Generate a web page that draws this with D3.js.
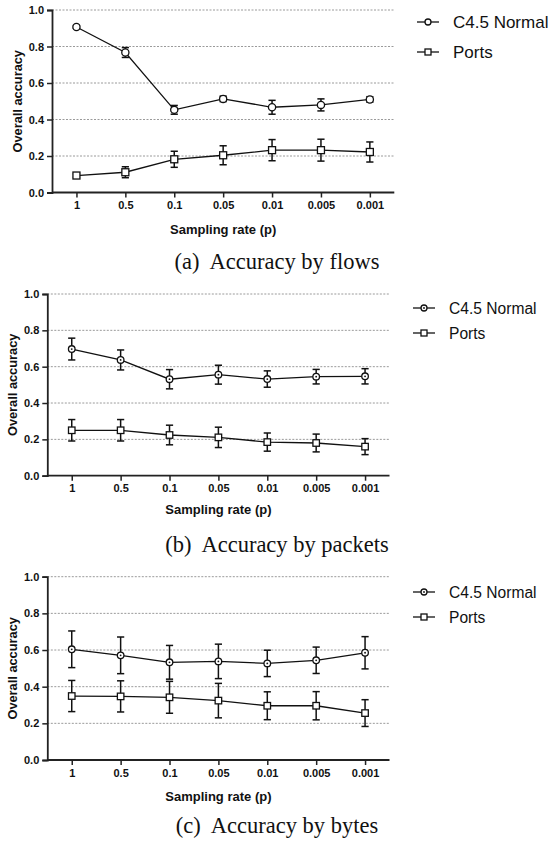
<!DOCTYPE html>
<html>
<head>
<meta charset="utf-8">
<script src="https://cdn.jsdelivr.net/npm/d3@7/dist/d3.min.js"></script>
<style>
  html, body { margin: 0; padding: 0; background: #fff; }
  svg { display: block; }
</style>
</head>
<body>
<svg id="chart" width="548" height="844"></svg>
<script>
// Sampling rates on the x axis and accuracy ticks on the y axis
const rates = ["1", "0.5", "0.1", "0.05", "0.01", "0.005", "0.001"];
const yTicks = [0, 0.2, 0.4, 0.6, 0.8, 1.0];
const seriesNames = ["C4.5 Normal", "Ports"];

// (a) accuracy by flows: mean and error half-width
const flowsC45 = [0.907, 0.767, 0.453, 0.513, 0.467, 0.480, 0.510];
const flowsC45Err = [0.008, 0.027, 0.024, 0.015, 0.038, 0.033, 0.015];
const flowsPorts = [0.093, 0.111, 0.182, 0.204, 0.232, 0.232, 0.222];
const flowsPortsErr = [0.010, 0.030, 0.044, 0.052, 0.058, 0.060, 0.055];

// (b) accuracy by packets
const packetsC45 = [0.697, 0.637, 0.531, 0.556, 0.532, 0.545, 0.547];
const packetsC45Err = [0.060, 0.055, 0.053, 0.052, 0.045, 0.040, 0.042];
const packetsPorts = [0.250, 0.250, 0.224, 0.211, 0.185, 0.180, 0.160];
const packetsPortsErr = [0.059, 0.059, 0.054, 0.056, 0.050, 0.049, 0.044];

// (c) accuracy by bytes
const bytesC45 = [0.604, 0.571, 0.533, 0.538, 0.527, 0.544, 0.585];
const bytesC45Err = [0.100, 0.100, 0.092, 0.094, 0.072, 0.072, 0.088];
const bytesPorts = [0.349, 0.347, 0.342, 0.324, 0.296, 0.296, 0.256];
const bytesPortsErr = [0.085, 0.085, 0.087, 0.094, 0.076, 0.077, 0.073];

const captions = ["(a)  Accuracy by flows", "(b)  Accuracy by packets", "(c)  Accuracy by bytes"];

const svg = d3.select("#chart");
const SANS = "'Liberation Sans', Arial, sans-serif";
const SERIF = "'Liberation Serif', 'Times New Roman', serif";

const panels = [
  { c45: flowsC45, c45e: flowsC45Err, ports: flowsPorts, portse: flowsPortsErr, caption: captions[0],
    left: 52, right: 394.3, top: 10, bottom: 192.5, yTitleX: 18, xTitleY: 234, capY: 269,
    legX: 417, legY: [22, 52], legFont: 17, r: 3.6, sq: 7, dot: false },
  { c45: packetsC45, c45e: packetsC45Err, ports: packetsPorts, portse: packetsPortsErr, caption: captions[1],
    left: 47.3, right: 389.5, top: 294, bottom: 475.7, yTitleX: 13, xTitleY: 514, capY: 552,
    legX: 413, legY: [308, 333], legFont: 15.6, r: 3.3, sq: 6.5, dot: true },
  { c45: bytesC45, c45e: bytesC45Err, ports: bytesPorts, portse: bytesPortsErr, caption: captions[2],
    left: 47.3, right: 389.5, top: 576.7, bottom: 760, yTitleX: 13, xTitleY: 801, capY: 833,
    legX: 413, legY: [592, 617], legFont: 15.6, r: 3.3, sq: 6.5, dot: true }
];

function drawMarker(g, kind, cx, cy, p) {
  if (kind === 0) {
    g.append("circle").attr("cx", cx).attr("cy", cy).attr("r", p.r)
      .attr("fill", "#fff").attr("stroke", "#111").attr("stroke-width", 1.3);
    if (p.dot) g.append("circle").attr("cx", cx).attr("cy", cy).attr("r", 0.9).attr("fill", "#111");
  } else {
    g.append("rect").attr("x", cx - p.sq / 2).attr("y", cy - p.sq / 2)
      .attr("width", p.sq).attr("height", p.sq)
      .attr("fill", "#fff").attr("stroke", "#111").attr("stroke-width", 1.3);
  }
}

panels.forEach(p => {
  const g = svg.append("g");
  const x = d3.scalePoint().domain(rates).range([p.left, p.right]).padding(0.5);
  const y = d3.scaleLinear().domain([0, 1]).range([p.bottom, p.top]);

  // dotted horizontal gridlines
  g.append("g").selectAll("line").data(yTicks.filter(t => t > 0)).join("line")
    .attr("x1", p.left).attr("x2", p.right)
    .attr("y1", d => y(d)).attr("y2", d => y(d))
    .attr("stroke", "#9a9a9a").attr("stroke-width", 1).attr("stroke-dasharray", "2,1.5");

  // y axis
  const yAxis = g.append("g").attr("transform", `translate(${p.left},0)`)
    .call(d3.axisLeft(y).tickValues(yTicks).tickFormat(d3.format(".1f")).tickSizeOuter(0).tickSize(5).tickPadding(3));
  // x axis
  const xAxis = g.append("g").attr("transform", `translate(0,${p.bottom})`)
    .call(d3.axisBottom(x).tickSizeOuter(0).tickSize(5).tickPadding(4));
  [yAxis, xAxis].forEach(a => {
    a.select(".domain").attr("stroke", "#222").attr("stroke-width", 1.8);
    a.selectAll(".tick line").attr("stroke", "#222").attr("stroke-width", 1.5);
    a.selectAll("text").attr("fill", "#111").style("font-family", SANS)
      .style("font-size", "11px").style("font-weight", "bold");
  });
  xAxis.select(".domain").attr("d", `M${p.left},0H${p.right}`);

  // axis titles
  g.append("text").attr("transform", `translate(${p.yTitleX},${(p.top + p.bottom) / 2}) rotate(-90)`)
    .attr("text-anchor", "middle").attr("dy", "0.35em")
    .style("font-family", SANS).style("font-size", "12.8px").style("font-weight", "bold")
    .attr("fill", "#111").text("Overall accuracy");
  g.append("text").attr("x", x(rates[0]) + (x(rates[6]) - x(rates[0])) / 2).attr("y", p.xTitleY)
    .attr("text-anchor", "middle")
    .style("font-family", SANS).style("font-size", "13px").style("font-weight", "bold")
    .attr("fill", "#111").text("Sampling rate (p)");

  // caption below the panel
  g.append("text").attr("x", 277).attr("y", p.capY).attr("text-anchor", "middle")
    .style("font-family", SERIF).style("font-size", "22.5px").attr("fill", "#111")
    .style("white-space", "pre").text(p.caption);

  const series = [[p.c45, p.c45e], [p.ports, p.portse]];
  const line = d3.line().x((d, i) => x(rates[i])).y(d => y(d));
  series.forEach(([vals, errs], k) => {
    const sg = g.append("g");
    sg.append("path").datum(vals).attr("d", line)
      .attr("fill", "none").attr("stroke", "#111").attr("stroke-width", 1.3);
    vals.forEach((v, i) => {
      const cx = x(rates[i]);
      const y1 = y(v + errs[i]), y0 = y(v - errs[i]);
      sg.append("line").attr("x1", cx).attr("x2", cx).attr("y1", y1).attr("y2", y0)
        .attr("stroke", "#111").attr("stroke-width", 1.5);
      [y1, y0].forEach(yy => sg.append("line").attr("x1", cx - 3.6).attr("x2", cx + 3.6)
        .attr("y1", yy).attr("y2", yy).attr("stroke", "#111").attr("stroke-width", 1.5));
    });
    vals.forEach((v, i) => drawMarker(sg, k, x(rates[i]), y(v), p));
  });

  // legend
  seriesNames.forEach((name, k) => {
    const ly = p.legY[k];
    g.append("line").attr("x1", p.legX).attr("x2", p.legX + 22).attr("y1", ly).attr("y2", ly)
      .attr("stroke", "#111").attr("stroke-width", 1.3);
    drawMarker(g, k, p.legX + 11, ly, { r: 3, sq: 6, dot: k === 0 && p.dot });
    g.append("text").attr("x", p.legX + 36).attr("y", ly).attr("dy", "0.36em")
      .style("font-family", SANS).style("font-size", p.legFont + "px").attr("fill", "#111").text(name);
  });
});
</script>
</body>
</html>
